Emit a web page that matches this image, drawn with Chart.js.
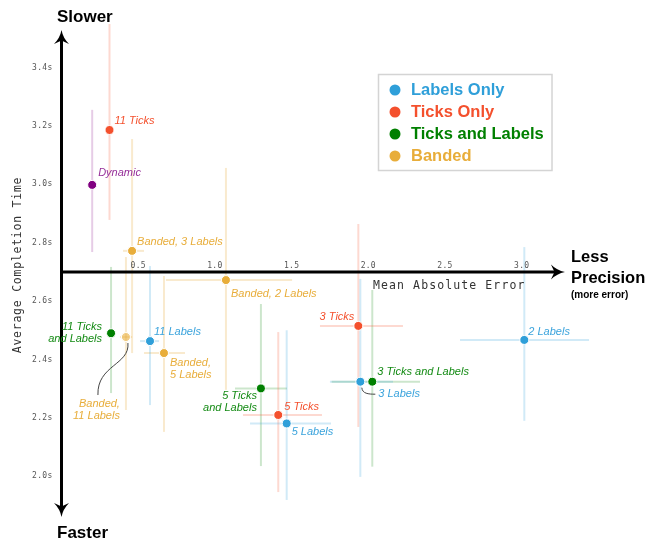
<!DOCTYPE html>
<html>
<head>
<meta charset="utf-8">
<script src="https://cdn.jsdelivr.net/npm/chart.js@4.4.1/dist/chart.umd.min.js"></script>
<style>
html,body{margin:0;padding:0;background:#fff;}
canvas{display:block;}
</style>
</head>
<body>
<canvas id="c" width="658" height="542"></canvas>
<script>
// ---------- DATA ----------
const xTicks = [0.5, 1.0, 1.5, 2.0, 2.5, 3.0];
const yTicks = [2.0, 2.2, 2.4, 2.6, 2.8, 3.0, 3.2, 3.4];
const xTitle = 'Mean Absolute Error';
const yTitle = 'Average Completion Time';

const labelsOnlyNames = ['11 Labels', '5 Labels', '3 Labels', '2 Labels'];
const labelsOnlyX     = [0.577, 1.468, 1.948, 3.017];
const labelsOnlyY     = [2.463, 2.181, 2.324, 2.467];
const labelsOnlyXLow  = [0.512, 1.229, 1.750, 2.598];
const labelsOnlyXHigh = [0.636, 1.757, 2.161, 3.439];
const labelsOnlyYLow  = [2.244, 1.919, 1.998, 2.190];
const labelsOnlyYHigh = [2.720, 2.500, 2.676, 2.785];

const ticksOnlyNames = ['11 Ticks', '5 Ticks', '3 Ticks'];
const ticksOnlyX     = [0.313, 1.413, 1.935];
const ticksOnlyY     = [3.186, 2.210, 2.515];
const ticksOnlyXLow  = [null, 1.183, 1.685];
const ticksOnlyXHigh = [null, 1.698, 2.226];
const ticksOnlyYLow  = [2.878, 1.946, 2.169];
const ticksOnlyYHigh = [3.549, 2.494, 2.864];

const ticksLabelsNames = ['11 Ticks\nand Labels', '5 Ticks\nand Labels', '3 Ticks and Labels'];
const ticksLabelsX     = [0.323, 1.300, 2.026];
const ticksLabelsY     = [2.490, 2.301, 2.324];
const ticksLabelsXLow  = [null, 1.131, 1.761];
const ticksLabelsXHigh = [null, 1.470, 2.337];
const ticksLabelsYLow  = [2.285, 2.035, 2.033];
const ticksLabelsYHigh = [2.717, 2.590, 2.638];

const bandedNames = ['Banded, 3 Labels', 'Banded, 2 Labels', 'Banded,\n5 Labels', 'Banded,\n11 Labels'];
const bandedX     = [0.460, 1.072, 0.668, 0.420];
const bandedY     = [2.772, 2.672, 2.422, 2.477];
const bandedXLow  = [0.401, 0.681, 0.538, 0.381];
const bandedXHigh = [0.538, 1.503, 0.805, 0.460];
const bandedYLow  = [2.422, 2.296, 2.152, 2.227];
const bandedYHigh = [3.155, 3.056, 2.686, 2.751];

const dynamicNames = ['Dynamic'];
const dynamicX     = [0.200];
const dynamicY     = [2.998];
const dynamicXLow  = [null];
const dynamicXHigh = [null];
const dynamicYLow  = [2.768];
const dynamicYHigh = [3.255];

const legendNames = ['Labels Only', 'Ticks Only', 'Ticks and Labels', 'Banded'];

// ---------- STYLE / LAYOUT ----------
const COL = {
  blue:   {pt:'#2f9fd9', txt:'#3aa3dc', bar:'rgba(47,159,217,0.22)'},
  red:    {pt:'#f4502d', txt:'#f4502d', bar:'rgba(244,80,45,0.22)'},
  green:  {pt:'#008000', txt:'#138a13', bar:'rgba(0,128,0,0.2)'},
  orange: {pt:'#e8ad3a', txt:'#e8ad3a', bar:'rgba(232,173,58,0.25)'},
  purple: {pt:'#800080', txt:'#96309a', bar:'rgba(128,0,128,0.2)'}
};
const SANS = '"Liberation Sans", Arial, Helvetica, sans-serif';
const MONO = '"DejaVu Sans Mono", "Liberation Mono", monospace';

// label placement (pixel offsets from the point)
const labelPlace = {
  '11 Labels':            {dx:4,  dy:-9,  align:'left'},
  '5 Labels':             {dx:5,  dy:8,   align:'left'},
  '3 Labels':             {dx:18, dy:12,  align:'left', curve:[[1.5,6],[2,12],[8,12.5],[15,12.5]]},
  '2 Labels':             {dx:4,  dy:-8,  align:'left'},
  '11 Ticks':             {dx:5,  dy:-9,  align:'left'},
  '5 Ticks':              {dx:6,  dy:-8,  align:'left'},
  '3 Ticks':              {dx:-4, dy:-9,  align:'right'},
  '11 Ticks\nand Labels': {dx:-9, dy:-6,  align:'right'},
  '5 Ticks\nand Labels':  {dx:-4, dy:8,   align:'right'},
  '3 Ticks and Labels':   {dx:5,  dy:-10, align:'left'},
  'Banded, 3 Labels':     {dx:5,  dy:-9,  align:'left'},
  'Banded, 2 Labels':     {dx:5,  dy:14,  align:'left'},
  'Banded,\n5 Labels':    {dx:6,  dy:10,  align:'left'},
  'Banded,\n11 Labels':   {dx:-6, dy:67,  align:'right', curve:[[2,6],[4,28],[-29,28],[-28,58]]},
  'Dynamic':              {dx:6,  dy:-12, align:'left'}
};

const X_AXIS_AT = 2.7, Y_AXIS_AT = 0;
const Y_AXIS_TOP = 3.528, Y_AXIS_BOTTOM = 1.861, X_AXIS_END = 3.282;

function build(names, xs, ys, xl, xh, yl, yh, col, alphaIdx) {
  return {
    label: '',
    data: xs.map((x, i) => ({x, y: ys[i], name: names[i], xl: xl[i], xh: xh[i], yl: yl[i], yh: yh[i]})),
    backgroundColor: xs.map((x, i) => (alphaIdx === i ? 'rgba(232,173,58,0.6)' : col.pt)),
    borderColor: '#ffffff',
    borderWidth: 1,
    pointRadius: 4.5,
    clip: false,
    col: col
  };
}

const datasets = [
  build(dynamicNames, dynamicX, dynamicY, dynamicXLow, dynamicXHigh, dynamicYLow, dynamicYHigh, COL.purple),
  build(bandedNames, bandedX, bandedY, bandedXLow, bandedXHigh, bandedYLow, bandedYHigh, COL.orange, 3),
  build(ticksLabelsNames, ticksLabelsX, ticksLabelsY, ticksLabelsXLow, ticksLabelsXHigh, ticksLabelsYLow, ticksLabelsYHigh, COL.green),
  build(ticksOnlyNames, ticksOnlyX, ticksOnlyY, ticksOnlyXLow, ticksOnlyXHigh, ticksOnlyYLow, ticksOnlyYHigh, COL.red),
  build(labelsOnlyNames, labelsOnlyX, labelsOnlyY, labelsOnlyXLow, labelsOnlyXHigh, labelsOnlyYLow, labelsOnlyYHigh, COL.blue)
];
const legendCols = [COL.blue, COL.red, COL.green, COL.orange];

function arrowHead(ctx, tx, ty, dir) {
  // dir: 'up','down','right'
  ctx.save();
  ctx.translate(tx, ty);
  const rot = {up:0, down:Math.PI, right:Math.PI/2}[dir];
  ctx.rotate(rot);
  ctx.beginPath();
  ctx.moveTo(0, 0);
  ctx.quadraticCurveTo(-1.5, 8, -7.5, 14);
  ctx.lineTo(0, 10.5);
  ctx.lineTo(7.5, 14);
  ctx.quadraticCurveTo(1.5, 8, 0, 0);
  ctx.closePath();
  ctx.fillStyle = '#000';
  ctx.fill();
  ctx.restore();
}

const drawPlugin = {
  id: 'drawPlugin',
  beforeDatasetsDraw(chart) {
    const ctx = chart.ctx, xs = chart.scales.x, ys = chart.scales.y;
    ctx.save();
    // error bars
    datasets.forEach(ds => {
      ctx.strokeStyle = ds.col.bar;
      ctx.lineWidth = 2;
      ds.data.forEach(d => {
        const px = xs.getPixelForValue(d.x), py = ys.getPixelForValue(d.y);
        if (d.yl != null) {
          ctx.beginPath();
          ctx.moveTo(px, ys.getPixelForValue(d.yl));
          ctx.lineTo(px, ys.getPixelForValue(d.yh));
          ctx.stroke();
        }
        if (d.xl != null) {
          ctx.beginPath();
          ctx.moveTo(xs.getPixelForValue(d.xl), py);
          ctx.lineTo(xs.getPixelForValue(d.xh), py);
          ctx.stroke();
        }
      });
    });
    // axes
    const ax = xs.getPixelForValue(Y_AXIS_AT);
    const ay = ys.getPixelForValue(X_AXIS_AT);
    const yTop = ys.getPixelForValue(Y_AXIS_TOP), yBot = ys.getPixelForValue(Y_AXIS_BOTTOM);
    const xEnd = xs.getPixelForValue(X_AXIS_END);
    ctx.strokeStyle = '#000';
    ctx.lineWidth = 3;
    ctx.beginPath();
    ctx.moveTo(ax, yTop + 8); ctx.lineTo(ax, yBot - 8);
    ctx.moveTo(ax - 1.5, ay); ctx.lineTo(xEnd - 8, ay);
    ctx.stroke();
    arrowHead(ctx, ax, yTop, 'up');
    arrowHead(ctx, ax, yBot, 'down');
    arrowHead(ctx, xEnd, ay, 'right');

    // tick labels
    ctx.fillStyle = '#555';
    ctx.font = '8px ' + MONO;
    ctx.letterSpacing = '0.3px';
    ctx.textAlign = 'center';
    ctx.textBaseline = 'bottom';
    xTicks.forEach(v => ctx.fillText(v.toFixed(1), xs.getPixelForValue(v), ay - 1.5));
    ctx.textAlign = 'right';
    ctx.textBaseline = 'middle';
    yTicks.forEach(v => ctx.fillText(v.toFixed(1) + 's', ax - 9, ys.getPixelForValue(v)));

    // axis titles
    ctx.fillStyle = '#333';
    ctx.font = '11.5px ' + MONO;
    ctx.letterSpacing = '1.1px';
    ctx.textAlign = 'left';
    ctx.textBaseline = 'middle';
    ctx.fillText(xTitle, 373, ay + 14.5);
    ctx.save();
    ctx.translate(18, 265);
    ctx.rotate(-Math.PI / 2);
    ctx.textAlign = 'center';
    ctx.letterSpacing = '0.75px';
    ctx.fillText(yTitle, 0, 0);
    ctx.restore();
    ctx.letterSpacing = '0px';
    ctx.restore();
  },
  afterDatasetsDraw(chart) {
    const ctx = chart.ctx, xs = chart.scales.x, ys = chart.scales.y;
    ctx.save();
    // point labels
    ctx.font = 'italic 11px ' + SANS;
    ctx.textBaseline = 'middle';
    datasets.forEach(ds => {
      ds.data.forEach(d => {
        const px = xs.getPixelForValue(d.x), py = ys.getPixelForValue(d.y);
        const p = labelPlace[d.name];
        ctx.fillStyle = ds.col.txt;
        ctx.textAlign = p.align;
        d.name.split('\n').forEach((line, i) => ctx.fillText(line, px + p.dx, py + p.dy + i * 12));
        if (p.curve) {
          const c = p.curve;
          ctx.strokeStyle = '#444';
          ctx.lineWidth = 1;
          ctx.beginPath();
          ctx.moveTo(px + c[0][0], py + c[0][1]);
          ctx.bezierCurveTo(px + c[1][0], py + c[1][1], px + c[2][0], py + c[2][1], px + c[3][0], py + c[3][1]);
          ctx.stroke();
        }
      });
    });

    // legend
    ctx.strokeStyle = '#d4d4d4';
    ctx.lineWidth = 1.5;
    ctx.strokeRect(378.5, 74.5, 173.5, 96);
    ctx.font = 'bold 16.5px ' + SANS;
    ctx.textAlign = 'left';
    legendNames.forEach((n, i) => {
      const y = 90 + i * 22;
      ctx.fillStyle = legendCols[i].pt;
      ctx.beginPath();
      ctx.arc(395, y, 5.5, 0, Math.PI * 2);
      ctx.fill();
      ctx.fillText(n, 411, y + 0.5);
    });

    // direction titles
    ctx.fillStyle = '#000';
    ctx.font = 'bold 17px ' + SANS;
    ctx.fillText('Slower', 57, 17);
    ctx.fillText('Faster', 57, 533);
    ctx.font = 'bold 16.5px ' + SANS;
    ctx.fillText('Less', 571, 257.5);
    ctx.fillText('Precision', 571, 278.5);
    ctx.font = 'bold 10px ' + SANS;
    ctx.fillText('(more error)', 571, 295);
    ctx.restore();
  }
};

new Chart(document.getElementById('c'), {
  type: 'scatter',
  data: {datasets},
  options: {
    responsive: false,
    animation: false,
    layout: {padding: {left: 61.5, right: 59.6, top: 23.7, bottom: 21.9}},
    scales: {
      x: {type: 'linear', min: 0, max: 3.5, display: false},
      y: {type: 'linear', min: 1.85, max: 3.55, display: false}
    },
    plugins: {legend: {display: false}, tooltip: {enabled: false}}
  },
  plugins: [drawPlugin]
});
</script>
</body>
</html>
